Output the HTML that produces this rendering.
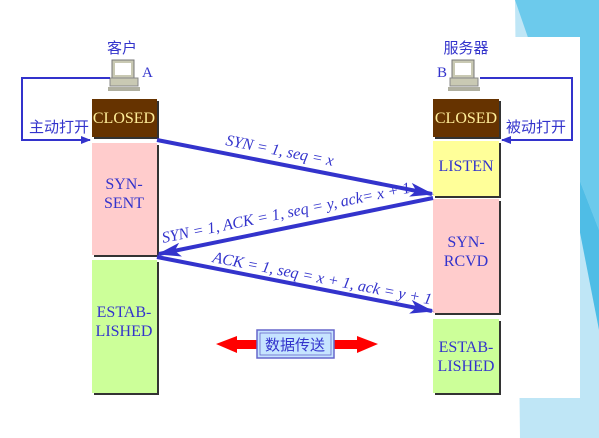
<!DOCTYPE html>
<html><head><meta charset="utf-8"><style>
html,body{margin:0;padding:0;width:599px;height:438px;overflow:hidden;background:#fff}
svg{display:block}
text{font-family:"Liberation Serif","Noto Serif CJK SC",serif}
.cn{font-family:"Liberation Sans","Noto Sans CJK SC",sans-serif}
</style></head><body>
<svg width="599" height="438" viewBox="0 0 599 438" xmlns="http://www.w3.org/2000/svg">
<defs>
<marker id="ah" markerWidth="10" markerHeight="8" refX="9" refY="4" orient="auto" markerUnits="userSpaceOnUse"><path d="M0,0 L10,4 L0,8 Z" fill="#3333cc"/></marker>
<marker id="big" markerWidth="24" markerHeight="14" refX="22" refY="7" orient="auto" markerUnits="userSpaceOnUse"><path d="M0,0 L24,7 L0,14 L6,7 Z" fill="#3333cc"/></marker>
</defs>
<polygon points="515,0 599,0 599,438 520,438" fill="#bfe6f6"/>
<polygon points="515,0 599,0 599,230 560,130" fill="#6ccaec"/>
<polygon points="560,130 599,230 599,330" fill="#4fbde6"/>
<rect x="0" y="37" width="580" height="361" fill="#fff"/>
<g transform="translate(108,60)">
<rect x="4" y="0" width="22" height="18" fill="#c9c9b3" stroke="#777" stroke-width="1"/>
<rect x="7" y="3" width="16" height="12" fill="#fff"/>
<rect x="2" y="18" width="28" height="8" fill="#c9c9b3" stroke="#888"/>
<rect x="0" y="27" width="32" height="4" fill="#b0b0a0"/>
</g>
<g transform="translate(448,60)">
<rect x="4" y="0" width="22" height="18" fill="#c9c9b3" stroke="#777" stroke-width="1"/>
<rect x="7" y="3" width="16" height="12" fill="#fff"/>
<rect x="2" y="18" width="28" height="8" fill="#c9c9b3" stroke="#888"/>
<rect x="0" y="27" width="32" height="4" fill="#b0b0a0"/>
</g>
<text x="122" y="53" class="cn" font-size="15" fill="#3333cc" text-anchor="middle">客户</text>
<text x="142" y="77" font-size="15" fill="#3333cc">A</text>
<text x="466" y="53" class="cn" font-size="15" fill="#3333cc" text-anchor="middle">服务器</text>
<text x="437" y="77" font-size="15" fill="#3333cc">B</text>
<polyline points="110,78 22,78 22,140 90,140" fill="none" stroke="#3333cc" stroke-width="2" marker-end="url(#ah)"/>
<polyline points="480,78 572,78 572,140 502,140" fill="none" stroke="#3333cc" stroke-width="2" marker-end="url(#ah)"/>
<text x="59" y="132" class="cn" font-size="15" fill="#3333cc" text-anchor="middle">主动打开</text>
<text x="536" y="132" class="cn" font-size="15" fill="#3333cc" text-anchor="middle">被动打开</text>
<rect x="94" y="101" width="65" height="38" fill="#333"/>
<rect x="92" y="99" width="65" height="38" fill="#663300"/>
<text x="124" y="123" font-size="16" fill="#ffee99" text-anchor="middle">CLOSED</text>
<rect x="94" y="145" width="65" height="112" fill="#333"/>
<rect x="92" y="143" width="65" height="112" fill="#ffcccc"/>
<text x="124" y="189" font-size="16" fill="#3333cc" text-anchor="middle">SYN-</text>
<text x="124" y="208" font-size="16" fill="#3333cc" text-anchor="middle">SENT</text>
<rect x="94" y="262" width="65" height="133" fill="#333"/>
<rect x="92" y="260" width="65" height="133" fill="#ccff99"/>
<text x="124" y="317" font-size="16" fill="#3333cc" text-anchor="middle">ESTAB-</text>
<text x="124" y="336" font-size="16" fill="#3333cc" text-anchor="middle">LISHED</text>
<rect x="435" y="101" width="66" height="38" fill="#333"/>
<rect x="433" y="99" width="66" height="38" fill="#663300"/>
<text x="466" y="123" font-size="16" fill="#ffee99" text-anchor="middle">CLOSED</text>
<rect x="435" y="143" width="66" height="55" fill="#333"/>
<rect x="433" y="141" width="66" height="55" fill="#ffff99"/>
<text x="466" y="171" font-size="16" fill="#3333cc" text-anchor="middle">LISTEN</text>
<rect x="435" y="201" width="66" height="114" fill="#333"/>
<rect x="433" y="199" width="66" height="114" fill="#ffcccc"/>
<text x="466" y="247" font-size="16" fill="#3333cc" text-anchor="middle">SYN-</text>
<text x="466" y="266" font-size="16" fill="#3333cc" text-anchor="middle">RCVD</text>
<rect x="435" y="321" width="66" height="74" fill="#333"/>
<rect x="433" y="319" width="66" height="74" fill="#ccff99"/>
<text x="466" y="352" font-size="16" fill="#3333cc" text-anchor="middle">ESTAB-</text>
<text x="466" y="371" font-size="16" fill="#3333cc" text-anchor="middle">LISHED</text>
<line x1="157" y1="140" x2="432" y2="194" stroke="#3333cc" stroke-width="4" marker-end="url(#big)"/>
<line x1="433" y1="198" x2="159" y2="254" stroke="#3333cc" stroke-width="4" marker-end="url(#big)"/>
<line x1="157" y1="257" x2="432" y2="311" stroke="#3333cc" stroke-width="4" marker-end="url(#big)"/>
<text font-size="16" font-style="italic" fill="#3333cc" transform="translate(225,145) rotate(11)">SYN = 1, seq = x</text>
<text font-size="16" font-style="italic" fill="#3333cc" transform="translate(163,243) rotate(-11.5)">SYN = 1, ACK = 1, seq = y, ack= x + 1</text>
<text font-size="16" font-style="italic" fill="#3333cc" transform="translate(212,262) rotate(11)">ACK = 1, seq = x + 1, ack = y + 1</text>
<polygon points="216,344 237,336 237,340 357,340 357,336 378,344 357,353 357,349 237,349 237,353" fill="#ff0000"/>
<rect x="257" y="330" width="77" height="28" fill="#c6e4ff" stroke="#6666cc" stroke-width="1.5"/>
<rect x="260" y="333" width="71" height="22" fill="none" stroke="#6666cc" stroke-width="0.8"/>
<text x="295" y="350" class="cn" font-size="15" fill="#3333cc" text-anchor="middle">数据传送</text>
</svg>
</body></html>
